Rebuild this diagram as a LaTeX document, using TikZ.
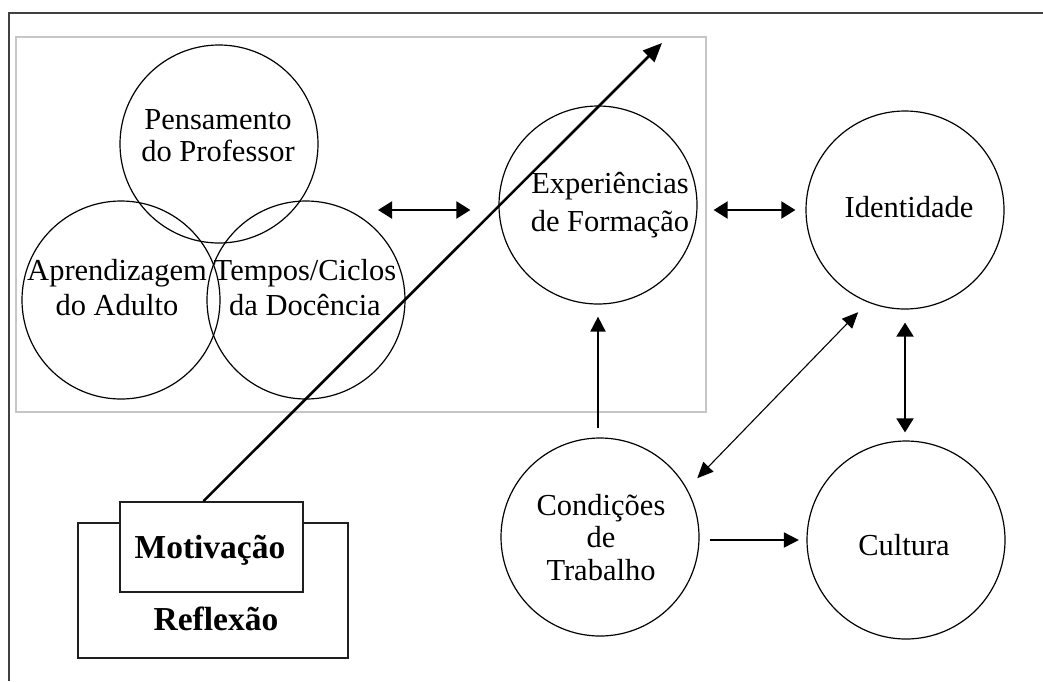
\documentclass[tikz,border=0pt]{standalone}
\usepackage{fontspec}
\setmainfont{Liberation Serif}
\usetikzlibrary{arrows.meta}
\definecolor{framegray}{RGB}{64,64,64}
\definecolor{boxgray}{RGB}{198,198,198}

\begin{document}
\begin{tikzpicture}[x=1pt,y=-1pt,
  bubble/.style={circle, draw=black, line width=1.2pt, minimum size=198pt, inner sep=0pt},
  txt/.style={inner sep=0pt, align=center, anchor=north},
  onetxt/.style={inner sep=0pt, anchor=base, font=\fontsize{30.5}{34}\selectfont},
  boldtxt/.style={inner sep=0pt, anchor=base, font=\fontsize{33.5}{37}\selectfont\bfseries},
  panel/.style={draw=black!88, line width=1.8pt, inner sep=0pt, fill=white},
  pair/.style={line width=2pt, {Triangle[length=14pt,width=17pt]}-{Triangle[length=14pt,width=17pt]}},
  single/.style={line width=1.8pt, -{Triangle[length=15pt,width=15pt]}},
  thinpair/.style={line width=1.1pt, {Triangle[length=16pt,width=14pt]}-{Triangle[length=16pt,width=14pt]}},
  bigarrow/.style={line width=2.6pt, -{Triangle[length=19pt,width=16pt]}}
]
\useasboundingbox (0,0) rectangle (1043,681);

% outer frame (top and left edges)
\draw[framegray, line width=2.6pt] (1043,13) -- (9,13) -- (9,681);

% grey panel holding the three overlapping bubbles
\node[draw=boxgray, line width=2pt, inner sep=0pt, minimum width=690pt, minimum height=375pt] (cluster) at (361,224.5) {};

% bubbles
\node[bubble] (pens)   at (219,144) {};
\node[bubble] (aprend) at (121,300) {};
\node[bubble] (tempos) at (306,300) {};
\node[bubble] (exper)  at (598,205) {};
\node[bubble] (ident)  at (905,210) {};
\node[bubble] (cond)   at (600,537) {};
\node[bubble] (cult)   at (906,540) {};

% bubble texts
\node[txt, font=\fontsize{30.5}{32}\selectfont]   (pens-t)   at (218,109) {Pensamento\\do Professor};
\node[txt, font=\fontsize{30.5}{35}\selectfont]   (aprend-t) at (117,259) {Aprendizagem\\do Adulto};
\node[txt, font=\fontsize{30.5}{35}\selectfont]   (tempos-t) at (305,259) {Tempos/Ciclos\\da Docência};
\node[txt, font=\fontsize{30.5}{38}\selectfont]   (exper-t)  at (610,172) {Experiências\\de Formação};
\node[onetxt] (ident-t) at (909,217) {Identidade};
\node[txt, font=\fontsize{30.5}{32.5}\selectfont] (cond-t)   at (601,494) {Condições\\de\\Trabalho};
\node[onetxt] (cult-t) at (904,555) {Cultura};

% Reflexão box with the Motivação box on top of it
\node[panel, minimum width=270pt, minimum height=135pt] (reflbox) at (213,590.5) {};
\node[panel, minimum width=183pt, minimum height=90pt]  (motbox)  at (211.5,547) {};
\node[boldtxt] (mot-t)  at (210,558) {Motivação};
\node[boldtxt] (refl-t) at (216,630) {Reflexão};

% connectors
\coordinate (clusterE) at (378,210);
\coordinate (peak) at (662,43);
\draw[pair, shorten >=28pt] (clusterE) -- (clusterE -| exper.west);
\draw[pair, shorten <=16pt, shorten >=10pt] (exper.east |- ident.west) -- (ident.west);
\draw[single, shorten <=9pt, shorten >=12pt] (cond.north -| exper.south) -- (exper.south);
\draw[thinpair, shorten <=14.6pt, shorten >=13.7pt] (cond.29) -- (ident.-112);
\draw[pair, shorten <=13pt, shorten >=8pt] (ident.south) -- (ident.south |- cult.north);
\draw[single, shorten <=10pt, shorten >=7.5pt] (cult.west -| cond.east) -- (cult.west);
\draw[bigarrow] ([xshift=-8pt]motbox.north) -- (peak);
\end{tikzpicture}
\end{document}
